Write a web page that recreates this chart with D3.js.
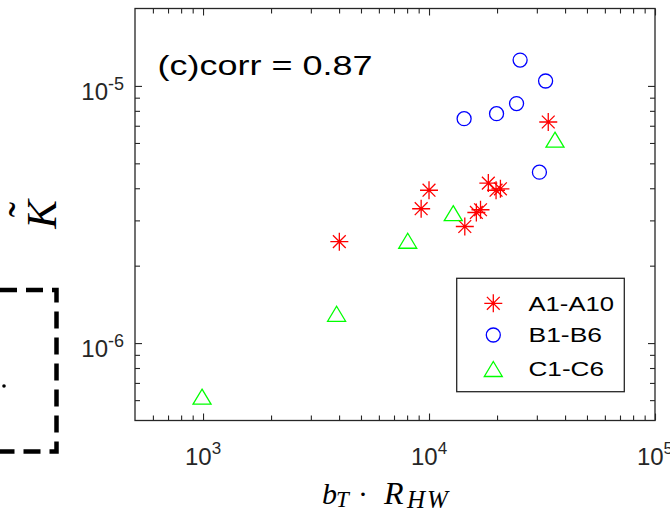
<!DOCTYPE html>
<html><head><meta charset="utf-8">
<script src="https://cdn.jsdelivr.net/npm/d3@7"></script>
<style>body{margin:0;background:#fff}svg{display:block}</style>
</head><body>
<script>
// ---- data ----
const seriesNames = ["A1-A10", "B1-B6", "C1-C6"];
const aX = [4010, 9230, 10000, 14400, 16200, 16900, 18300, 19800, 20700, 33700];
const aY = [2.48e-6, 3.33e-6, 3.93e-6, 2.84e-6, 3.22e-6, 3.30e-6, 4.19e-6, 3.93e-6, 3.98e-6, 7.24e-6];
const bX = [14300, 19900, 24400, 25300, 32800, 30800];
const bY = [7.46e-6, 7.8e-6, 8.54e-6, 1.26e-5, 1.045e-5, 4.62e-6];
const cX = [990, 3900, 8050, 12800, 36100];
const cY = [6.19e-7, 1.30e-6, 2.5e-6, 3.2e-6, 6.18e-6];
const xDomain = [500, 1e5];
const yDomain = [5e-7, 2e-5];
const xMajor = [1e3, 1e4, 1e5];
const xMajorExp = ["3", "4", "5"];
const xMinor = [600, 700, 800, 900, 2000, 3000, 4000, 5000, 6000, 7000, 8000, 9000,
                20000, 30000, 40000, 50000, 60000, 70000, 80000, 90000];
const yMajor = [1e-6, 1e-5];
const yMajorExp = ["-6", "-5"];
const yMinor = [6e-7, 7e-7, 8e-7, 9e-7, 2e-6, 3e-6, 4e-6, 5e-6, 6e-6, 7e-6, 8e-6, 9e-6];
const corrText = "(c)corr = 0.87";

// ---- drawing ----
const W = 670, H = 514;
const svg = d3.select("body").append("svg").attr("width", W).attr("height", H);
const x = d3.scaleLog().domain(xDomain).range([135, 655]);
const y = d3.scaleLog().domain(yDomain).range([420.5, 8.5]);
const axisColor = "#262626";
const sansFont = "'Liberation Sans', Arial, Helvetica, sans-serif";
const serifFont = "'Liberation Serif', 'Times New Roman', serif";

// neighbouring panel fragment (dashed box)
svg.append("path")
  .attr("d", "M0,290H56.5V451.5H0")
  .attr("fill", "none").attr("stroke", "#000").attr("stroke-width", 4.5)
  .attr("stroke-dasharray", "17,9");
svg.append("circle").attr("cx", 4).attr("cy", 386).attr("r", 1.8).attr("fill", "#000");

// ticks via d3 axes (inward)
function tickAxis(gen, scale, vals, len, transform) {
  const g = svg.append("g").attr("transform", transform)
    .call(gen(scale).tickValues(vals).tickSizeInner(-len).tickSizeOuter(0).tickFormat(() => ""));
  g.select(".domain").remove();
  g.selectAll("text").remove();
  g.selectAll("line").attr("stroke", axisColor).attr("stroke-width", 1.1);
}
[[xMajor, 7], [xMinor, 5]].forEach(([v, l]) => {
  tickAxis(d3.axisBottom, x, v, l, "translate(0,420.5)");
  tickAxis(d3.axisTop, x, v, l, "translate(0,8.5)");
});
[[yMajor, 7], [yMinor, 5]].forEach(([v, l]) => {
  tickAxis(d3.axisLeft, y, v, l, "translate(135,0)");
  tickAxis(d3.axisRight, y, v, l, "translate(655,0)");
});

// box
svg.append("rect").attr("x", 135).attr("y", 8.5).attr("width", 520).attr("height", 412)
  .attr("fill", "none").attr("stroke", axisColor).attr("stroke-width", 1.3);

// tick labels
xMajor.forEach((v, i) => {
  const t = svg.append("text").attr("x", x(v)).attr("y", 465)
    .attr("text-anchor", "middle").attr("font-family", sansFont)
    .attr("font-size", 24).attr("fill", axisColor);
  t.append("tspan").text("10");
  t.append("tspan").attr("dy", -11).attr("font-size", 17).text(xMajorExp[i]);
});
yMajor.forEach((v, i) => {
  const t = svg.append("text").attr("x", 124).attr("y", y(v) + 14.3)
    .attr("text-anchor", "end").attr("font-family", sansFont)
    .attr("font-size", 24).attr("fill", axisColor);
  t.append("tspan").text("10");
  t.append("tspan").attr("dy", -10).attr("font-size", 18).text(yMajorExp[i]);
});

// markers
const starPath = "M-9,0H9M0,-9V9M-6.4,-6.4L6.4,6.4M-6.4,6.4L6.4,-6.4";
const triPath = "M0,-7.5L9,7.5L-9,7.5Z";
function drawStar(sel) {
  sel.append("path").attr("d", starPath).attr("fill", "none")
    .attr("stroke", "#ff0000").attr("stroke-width", 1.3);
}
function drawCircle(sel) {
  sel.append("circle").attr("r", 7).attr("fill", "none")
    .attr("stroke", "#0000ff").attr("stroke-width", 1.3);
}
function drawTri(sel) {
  sel.append("path").attr("d", triPath).attr("fill", "none")
    .attr("stroke", "#00ff00").attr("stroke-width", 1.3);
}
const seriesA = aX.map((v, i) => ({x: v, y: aY[i]}));
const seriesB = bX.map((v, i) => ({x: v, y: bY[i]}));
const seriesC = cX.map((v, i) => ({x: v, y: cY[i]}));
[[seriesA, drawStar], [seriesB, drawCircle], [seriesC, drawTri]].forEach(([data, fn]) => {
  svg.append("g").selectAll("g").data(data).join("g")
    .attr("transform", d => `translate(${x(d.x)},${y(d.y)})`)
    .call(fn);
});

// corr annotation
svg.append("text").attr("x", 157.5).attr("y", 75)
  .attr("font-family", sansFont).attr("font-size", 27).attr("fill", "#000")
  .attr("textLength", 215).attr("lengthAdjust", "spacingAndGlyphs")
  .text(corrText);

// legend
svg.append("rect").attr("x", 456.7).attr("y", 278.3).attr("width", 167.6).attr("height", 113.4)
  .attr("fill", "#fff").attr("stroke", axisColor).attr("stroke-width", 1.3);
const legY = [303.3, 335, 369];
const legW = [85.5, 73.5, 75.5];
const legFns = [drawStar, drawCircle, drawTri];
seriesNames.forEach((name, i) => {
  svg.append("g").attr("transform", `translate(493.3,${legY[i]})`).call(legFns[i]);
  svg.append("text").attr("x", 528.5).attr("y", legY[i] + 7.4)
    .attr("font-family", sansFont).attr("font-size", 21).attr("fill", "#000")
    .attr("textLength", legW[i]).attr("lengthAdjust", "spacingAndGlyphs")
    .text(name);
});

// x label: b_T · R_HW
const xl = svg.append("text").attr("font-family", serifFont).attr("fill", "#000");
xl.append("tspan").attr("x", 322).attr("y", 504).attr("font-size", 30).attr("font-style", "italic").text("b");
xl.append("tspan").attr("x", 336).attr("y", 507).attr("font-size", 23).attr("font-style", "italic").text("T");
xl.append("tspan").attr("x", 358).attr("y", 504).attr("font-size", 30).text("·");
xl.append("tspan").attr("x", 384).attr("y", 504).attr("font-size", 32).attr("font-style", "italic").text("R");
xl.append("tspan").attr("x", 407).attr("y", 507.5).attr("font-size", 25).attr("font-style", "italic")
  .attr("letter-spacing", 2).text("HW");

// y label: K with tilde
const yl = svg.append("g").attr("transform", "translate(56,214.5) rotate(-90)");
yl.append("text").attr("text-anchor", "middle").attr("font-family", serifFont)
  .attr("font-size", 43).attr("font-style", "italic").attr("fill", "#000").text("K");
yl.append("text").attr("x", 5).attr("y", -16).attr("text-anchor", "middle").attr("font-family", serifFont)
  .attr("font-size", 46).attr("fill", "#000").text("˜");
</script>
</body></html>
